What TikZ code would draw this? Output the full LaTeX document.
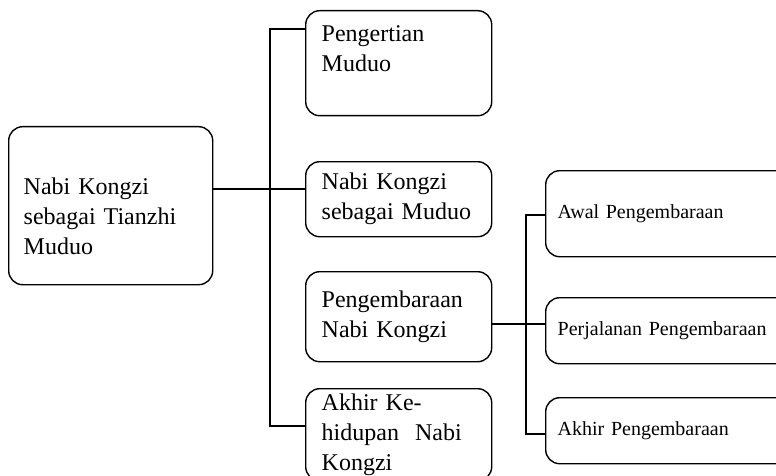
\documentclass[tikz,border=0pt]{standalone}
\usepackage{fontspec}
\setmainfont{Liberation Serif}
\usepackage{tikz}
\usetikzlibrary{arrows}

\begin{document}
\begin{tikzpicture}[x=1pt,y=-1pt,semithick]
  \tikzstyle{big box}=[draw,line width=1.4pt,rounded corners=14pt,anchor=north west,
                       align=left,inner xsep=16pt,text width=154pt,minimum width=186pt,
                       font=\fontsize{24}{30}\selectfont]
  \tikzstyle{small box}=[draw,line width=1.4pt,rounded corners=14pt,anchor=north west,
                         align=left,inner xsep=12pt,text width=240pt,minimum width=264pt,
                         font=\fontsize{20}{24}\selectfont]
  \tikzstyle{link}=[line width=1.3pt]

  \clip (0,0) rectangle (776,476);

  \node[big box,inner xsep=15pt,text width=174pt,minimum width=204pt,minimum height=158pt,
        text height=37pt] (main) at (8,126) {Nabi Kongzi\\sebagai Tianzhi\\Muduo};
  \node[big box,minimum height=105pt] (peng) at (305,10)  {Pengertian\\Muduo\\\mbox{}};
  \node[big box,minimum height=75pt]  (muduo) at (305,161) {Nabi Kongzi\\sebagai Muduo};
  \node[big box,minimum height=90pt]  (kemb) at (305,271) {Pengembaraan\\Nabi Kongzi};
  \node[big box,minimum height=92pt]  (akhir) at (305,388) {Akhir Ke-\\hidupan~ Nabi\\Kongzi};
  \node[small box,minimum height=86pt] (awal) at (545,170) {Awal Pengembaraan};
  \node[small box,minimum height=66pt] (jalan) at (545,297) {Perjalanan Pengembaraan};
  \node[small box,minimum height=66pt] (akhirk) at (545,397) {Akhir Pengembaraan};

  \coordinate (T1) at (270,29);
  \coordinate (T2) at (270,189);
  \coordinate (T4) at (270,426);
  \coordinate (U1) at (526,215);
  \coordinate (U2) at (526,324);
  \coordinate (U3) at (526,434);

  \draw[link] (main.east |- T2)--(muduo.west |- T2);
  \draw[link] (peng.west |- T1)--(T1)--(T4)--(akhir.west |- T4);
  \draw[link] (kemb.east |- U2)--(jalan.west |- U2);
  \draw[link] (awal.west |- U1)--(U1)--(U3)--(akhirk.west |- U3);
\end{tikzpicture}
\end{document}
